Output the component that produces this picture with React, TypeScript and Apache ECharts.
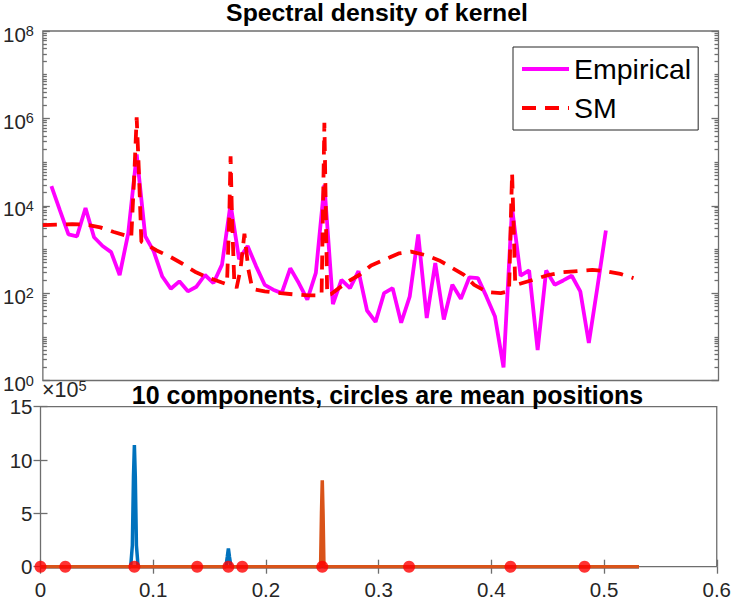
import React, { useEffect, useRef } from "react";
import * as echarts from "echarts";

// ---------- data ----------
const N_FFT = 132; // periodogram frequencies are k / N_FFT, k = 1..66
const empiricalValues = [
  2.8e4, 7.8e3, 2.2e3, 2.0e3, 8.9e3, 1.9e3, 1.2e3, 8.7e2, 2.6e2, 2.3e3,
  1.5e5, 2.0e3, 9.0e2, 2.4e2, 1.26e2, 1.86e2, 1.1e2, 1.4e2, 2.6e2, 1.7e2,
  4.5e2, 1.1e4, 6.0e2, 1.2e3, 4.1e2, 1.55e2, 1.2e2, 1.0e2, 3.7e2, 1.7e2,
  71, 2.9e2, 3.0e4, 56, 2.0e2, 1.3e2, 3.2e2, 40, 22, 1.0e2,
  1.3e2, 21, 83, 2.2e3, 27, 4.9e2, 25, 1.55e2, 74, 2.3e2,
  2.2e2, 83, 29, 2.0, 8.9e3, 2.5e2, 3.3e2, 5.0, 3.3e2, 1.55e2,
  1.95e2, 2.5e2, 1.1e2, 7.2, 1.35e2, 2.7e3,
];

const smFreq = [
  0, 0.013, 0.026, 0.038, 0.051, 0.063, 0.0785, 0.0815, 0.0833, 0.0851,
  0.0875, 0.091, 0.101, 0.113, 0.124, 0.135, 0.146, 0.159, 0.1635, 0.1655,
  0.1667, 0.168, 0.17, 0.172, 0.1755, 0.179, 0.1825, 0.186, 0.197, 0.211,
  0.224, 0.236, 0.2475, 0.249, 0.25, 0.251, 0.2525, 0.256, 0.2695, 0.281,
  0.2915, 0.303, 0.316, 0.327, 0.34, 0.352, 0.362, 0.374, 0.383, 0.395,
  0.4066, 0.414, 0.4155, 0.4167, 0.418, 0.4195, 0.4225, 0.4375, 0.449, 0.4615,
  0.4748, 0.488, 0.4996, 0.5128, 0.5245,
];
const smValues = [
  3.6e3, 3.7e3, 3.8e3, 3.7e3, 3.2e3, 2.5e3, 1.9e3, 7.9e4, 1.05e6, 7.9e4,
  1.5e3, 1.35e3, 9.5e2, 6.8e2, 4.7e2, 3.1e2, 2.3e2, 1.75e2, 1.6e2, 5.0e3,
  1.35e5, 5.0e3, 1.8e2, 1.3e2, 3.5e2, 2.3e3, 3.5e2, 1.25e2, 1.1e2, 1.0e2,
  93, 89, 89, 2.0e4, 7.9e5, 2.0e4, 91, 95, 1.75e2, 2.6e2,
  4.3e2, 5.8e2, 8.1e2, 8.9e2, 7.4e2, 5.6e2, 4.0e2, 2.6e2, 1.55e2, 1.05e2,
  1.0e2, 1.1e2, 4.0e3, 5.6e4, 4.0e3, 1.5e2, 1.6e2, 2.1e2, 2.6e2, 3.0e2,
  3.2e2, 3.4e2, 3.2e2, 2.75e2, 2.2e2,
];

const blueFreq = [0, 0.08, 0.0815, 0.0825, 0.0833, 0.0841, 0.0851, 0.0866, 0.1645, 0.1657, 0.1667, 0.1677, 0.169, 0.531];
const blueValues = [0, 0, 2.0e5, 8.5e5, 1.14e6, 8.5e5, 2.0e5, 0, 0, 0.9e5, 1.7e5, 0.9e5, 0, 0];
const orangeFreq = [0, 0.2485, 0.2493, 0.25, 0.2507, 0.2515, 0.531];
const orangeValues = [0, 0, 5.0e5, 8.1e5, 5.0e5, 0, 0];
const meanPositions = [0, 0.022, 0.0833, 0.139, 0.1667, 0.179, 0.25, 0.327, 0.417, 0.4827];

const logMajorTicks = [1, 1e2, 1e4, 1e6, 1e8];

// ---------- style ----------
const FONT = "'Liberation Sans', Arial, Helvetica, sans-serif";
const AX = "#6e6e6e";
const TXT = "#262626";
const GL = 40.5;
const GW = 678;
const TICK_FS = 20.5;
const SUP_FS = 14.5;

export default function App() {
  const ref = useRef<HTMLDivElement>(null);
  useEffect(() => {
    const chart = echarts.init(ref.current!, null, { renderer: "svg" });

    const minorTicks: number[] = [];
    for (let e = 0; e < 8; e++) {
      for (let m = 2; m <= 9; m++) minorTicks.push(m * Math.pow(10, e));
      if (e % 2 === 0) minorTicks.push(Math.pow(10, e + 1));
    }

    const lineStyle = { color: AX, width: 1.3 };
    const logBase = {
      type: "log" as const,
      logBase: 10,
      gridIndex: 0,
      min: 1,
      max: 1e8,
      axisLine: { show: false },
      splitLine: { show: false },
    };
    const supLabel = {
      show: true,
      customValues: logMajorTicks,
      margin: 9,
      padding: [6, 0, 0, 0],
      formatter: (v: number) => `{b|10}{s|${Math.round(Math.log10(v))}}`,
      rich: {
        b: { fontSize: TICK_FS, fontFamily: FONT, color: TXT, lineHeight: 21, padding: [3, 0, 0, 0], verticalAlign: "bottom" },
        s: { fontSize: SUP_FS, fontFamily: FONT, color: TXT, lineHeight: 14, verticalAlign: "top" },
      },
    };

    const option: any = {
      animation: false,
      backgroundColor: "#fff",
      textStyle: { fontFamily: FONT },
      grid: [
        { left: GL, top: 31, width: GW, height: 349.5, show: true, borderColor: AX, borderWidth: 1.3, backgroundColor: "transparent" },
        { left: GL, top: 406.7, width: GW, height: 160, show: true, borderColor: AX, borderWidth: 1.3, backgroundColor: "transparent" },
      ],
      xAxis: [
        { type: "value", gridIndex: 0, min: 0, max: 0.6, interval: 0.1, axisLine: { show: false }, axisTick: { show: false }, axisLabel: { show: false }, splitLine: { show: false } },
        {
          type: "value", gridIndex: 1, min: 0, max: 0.6, interval: 0.1, position: "bottom",
          axisLine: { show: false },
          axisTick: { show: true, inside: true, length: 7, lineStyle },
          axisLabel: { show: true, margin: 12, fontSize: TICK_FS, color: TXT, fontFamily: FONT },
          splitLine: { show: false },
        },
        {
          type: "value", gridIndex: 1, min: 0, max: 0.6, interval: 0.1, position: "top",
          axisLine: { show: false },
          axisTick: { show: true, inside: true, length: 7, lineStyle },
          axisLabel: { show: false },
          splitLine: { show: false },
        },
      ],
      yAxis: [
        { ...logBase, position: "left", axisTick: { show: true, inside: true, length: 7, lineStyle, customValues: logMajorTicks }, axisLabel: supLabel },
        { ...logBase, position: "left", axisTick: { show: true, inside: true, length: 4, lineStyle, customValues: minorTicks }, axisLabel: { show: false } },
        { ...logBase, position: "right", axisTick: { show: true, inside: true, length: 7, lineStyle, customValues: logMajorTicks }, axisLabel: { show: false } },
        { ...logBase, position: "right", axisTick: { show: true, inside: true, length: 4, lineStyle, customValues: minorTicks }, axisLabel: { show: false } },
        {
          type: "value", gridIndex: 1, min: 0, max: 1.5e6, interval: 5e5, position: "left",
          axisLine: { show: false },
          axisTick: { show: true, inside: true, length: 7, lineStyle },
          axisLabel: { show: true, margin: 8, fontSize: TICK_FS, color: TXT, fontFamily: FONT, formatter: (v: number) => String(Math.round(v / 1e5)) },
          splitLine: { show: false },
        },
        {
          type: "value", gridIndex: 1, min: 0, max: 1.5e6, interval: 5e5, position: "right",
          axisLine: { show: false },
          axisTick: { show: true, inside: true, length: 7, lineStyle },
          axisLabel: { show: false },
          splitLine: { show: false },
        },
      ],
      legend: {
        data: ["Empirical", "SM"],
        orient: "vertical",
        left: 513,
        top: 47,
        itemWidth: 47,
        itemHeight: 14,
        itemGap: 9,
        padding: [7, 7, 7, 7],
        borderColor: TXT,
        borderWidth: 1,
        backgroundColor: "#fff",
        selectedMode: false,
        itemStyle: { opacity: 0 },
        lineStyle: { width: 4 },
        textStyle: { fontSize: 28.5, fontFamily: FONT, color: "#000", lineHeight: 30 },
      },
      graphic: [
        { type: "text", x: 377, y: 12, style: { text: "Spectral density of kernel", font: `bold 24.8px ${FONT}`, fill: "#000", align: "center", verticalAlign: "middle" } },
        { type: "text", x: 387.5, y: 395.3, style: { text: "10 components, circles are mean positions", font: `bold 25px ${FONT}`, fill: "#000", align: "center", verticalAlign: "middle" } },
        {
          type: "text", x: 42, y: 389.5,
          style: {
            text: "{a|×10}{b|5}",
            verticalAlign: "middle",
            rich: {
              a: { fontSize: 21.5, fontFamily: FONT, fill: TXT, lineHeight: 22, padding: [3, 0, 0, 0], verticalAlign: "bottom" },
              b: { fontSize: SUP_FS, fontFamily: FONT, fill: TXT, lineHeight: 14, verticalAlign: "top" },
            },
          },
        },
      ],
      series: [
        {
          name: "Empirical", type: "line", xAxisIndex: 0, yAxisIndex: 0, symbol: "none", clip: false,
          data: empiricalValues.map((v, i) => [(i + 1) / N_FFT, v]),
          lineStyle: { color: "#ff00ff", width: 3.8 }, itemStyle: { color: "#ff00ff" },
        },
        {
          name: "SM", type: "line", xAxisIndex: 0, yAxisIndex: 0, symbol: "none", clip: false,
          data: smFreq.map((f, i) => [f, smValues[i]]),
          lineStyle: { color: "#ff0000", width: 3.8, type: [14, 9] }, itemStyle: { color: "#ff0000" },
        },
        {
          name: "comp1", type: "line", xAxisIndex: 1, yAxisIndex: 4, symbol: "none", clip: false,
          data: blueFreq.map((f, i) => [f, blueValues[i]]),
          lineStyle: { color: "#0072bd", width: 3.5 }, itemStyle: { color: "#0072bd" },
        },
        {
          name: "comp2", type: "line", xAxisIndex: 1, yAxisIndex: 4, symbol: "none", clip: false,
          data: orangeFreq.map((f, i) => [f, orangeValues[i]]),
          lineStyle: { color: "#d95319", width: 3.5 }, itemStyle: { color: "#d95319" },
        },
        {
          name: "means", type: "scatter", xAxisIndex: 1, yAxisIndex: 4, symbol: "circle", symbolSize: 12, z: 5,
          data: meanPositions.map((m) => [m, 0]),
          itemStyle: { color: "#ff0000" },
        },
      ],
    };
    chart.setOption(option);
    return () => chart.dispose();
  }, []);
  return (
    <div
      ref={ref}
      style={{ position: "absolute", left: 0, top: 0, width: 734, height: 604, background: "#fff" }}
    />
  );
}
